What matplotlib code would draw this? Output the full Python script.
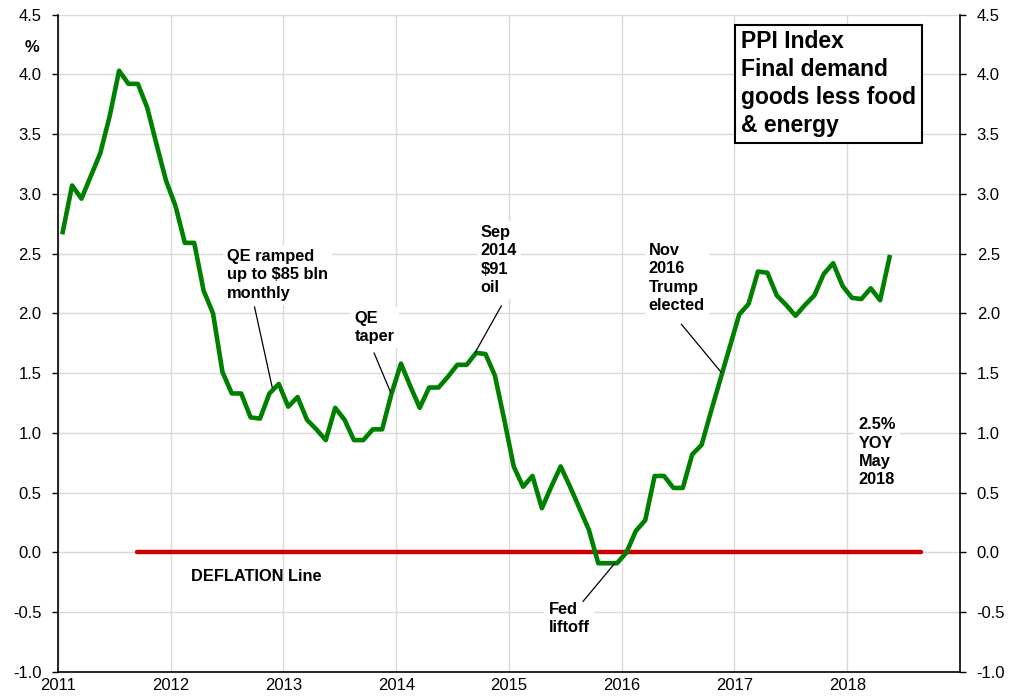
import numpy as np
import matplotlib
matplotlib.use("Agg")
import matplotlib.pyplot as plt

plt.rcParams['font.family'] = ['Liberation Sans', 'DejaVu Sans']

# ===== 데이터: PPI final demand goods less food & energy, YoY %, 월별 =====
START_YEAR = 2011
ppi_2011 = [2.68, 3.07, 2.96, 3.15, 3.34, 3.65, 4.03, 3.92, 3.92, 3.72, 3.41, 3.11]
ppi_2012 = [2.90, 2.59, 2.59, 2.19, 2.00, 1.51, 1.33, 1.33, 1.13, 1.12, 1.33, 1.41]
ppi_2013 = [1.22, 1.30, 1.11, 1.03, 0.94, 1.21, 1.11, 0.94, 0.94, 1.03, 1.03, 1.33]
ppi_2014 = [1.58, 1.39, 1.21, 1.38, 1.38, 1.47, 1.57, 1.57, 1.67, 1.66, 1.48, 1.11]
ppi_2015 = [0.72, 0.55, 0.64, 0.37, 0.55, 0.72, 0.55, 0.37, 0.19, -0.09, -0.09, -0.09]
ppi_2016 = [0.00, 0.18, 0.27, 0.64, 0.64, 0.54, 0.54, 0.82, 0.90, 1.18, 1.45, 1.72]
ppi_2017 = [1.99, 2.08, 2.35, 2.34, 2.15, 2.07, 1.98, 2.07, 2.15, 2.33, 2.42, 2.23]
ppi_2018 = [2.13, 2.12, 2.21, 2.11, 2.47]
ppi = ppi_2011 + ppi_2012 + ppi_2013 + ppi_2014 + ppi_2015 + ppi_2016 + ppi_2017 + ppi_2018

year_ticks = [2011, 2012, 2013, 2014, 2015, 2016, 2017, 2018]
y_ticks = [-1.0, -0.5, 0.0, 0.5, 1.0, 1.5, 2.0, 2.5, 3.0, 3.5, 4.0, 4.5]
deflation_span = [2011.7, 2018.65]   # 빨간 기준선 구간

# 월 중간 위치(소수 연도)
x = START_YEAR + (np.arange(len(ppi)) + 0.5) / 12.0

# ===== 그림 =====
fig = plt.figure(figsize=(10.23, 6.98), dpi=100)
ax = fig.add_axes([0.0567, 0.0372, 0.8817, 0.9420])

ax.set_xlim(2011, 2019)
ax.set_ylim(-1.0, 4.5)
ax.set_xticks(year_ticks)
ax.set_xticklabels([str(y) for y in year_ticks])
ax.set_yticks(y_ticks)
ax.set_yticklabels([f"{v:.1f}" for v in y_ticks])
ax.grid(True, color="#d9d9d9", lw=1.0, zorder=0)
ax.set_axisbelow(True)

ax.spines["top"].set_visible(False)
for s in ["left", "right", "bottom"]:
    ax.spines[s].set_linewidth(1.2)
ax.yaxis.set_ticks_position("both")
ax.tick_params(axis="y", labelright=True, length=4, width=1, pad=8, labelsize=12)
ax.tick_params(axis="x", length=0, pad=4, labelsize=12)

# 디플레이션 라인 + PPI
ax.plot(deflation_span, [0, 0], color="#cc0000", lw=3.2, solid_capstyle="round", zorder=3)
ax.plot(x, ppi, color="#008000", lw=3.3, solid_joinstyle="round", zorder=4)

# ===== 주석 =====
txt = dict(fontsize=11.8, fontweight="bold", ha="left", va="top", zorder=5, linespacing=1.28,
           bbox=dict(facecolor="white", edgecolor="none", pad=3))
line = dict(arrowstyle="-", color="black", lw=0.9, shrinkA=0, shrinkB=0)

ax.text(2012.50, 2.54, "QE ramped\nup to $85 bln\nmonthly", **txt)
ax.annotate("", xy=(2012.90, 1.38), xytext=(2012.743, 2.055), arrowprops=line, zorder=5)

ax.text(2013.63, 2.02, "QE\ntaper", **txt)
ax.annotate("", xy=(2013.95, 1.34), xytext=(2013.803, 1.67), arrowprops=line, zorder=5)

ax.text(2014.75, 2.74, "Sep\n2014\n$91\noil", **txt)
ax.annotate("", xy=(2014.70, 1.673), xytext=(2014.932, 2.063), arrowprops=line, zorder=5)

ax.text(2016.24, 2.59, "Nov\n2016\nTrump\nelected", **txt)
ax.annotate("", xy=(2016.883, 1.506), xytext=(2016.528, 1.91), arrowprops=line, zorder=5)

ax.text(2018.10, 1.13, "2.5%\nYOY\nMay\n2018", **txt)

ax.text(2015.35, -0.41, "Fed\nliftoff", **txt)
ax.annotate("", xy=(2015.937, -0.092), xytext=(2015.656, -0.41), arrowprops=line, zorder=5)

ax.text(2012.18, -0.20, "DEFLATION Line", fontsize=11.8, fontweight="bold",
        ha="left", va="center", zorder=5)

ax.text(0.757, 0.976, "PPI Index\nFinal demand\ngoods less food\n& energy",
        transform=ax.transAxes, fontsize=16.5, fontweight="bold", ha="left", va="top",
        linespacing=1.27, zorder=6,
        bbox=dict(facecolor="white", edgecolor="black", lw=1.5, boxstyle="square,pad=0.25"))

fig.text(32 / 1023, 1 - 47 / 698, "%", fontsize=12, fontweight="bold", ha="center", va="center")

fig.savefig("out.png", dpi=100)
print("Saved: out.png")
